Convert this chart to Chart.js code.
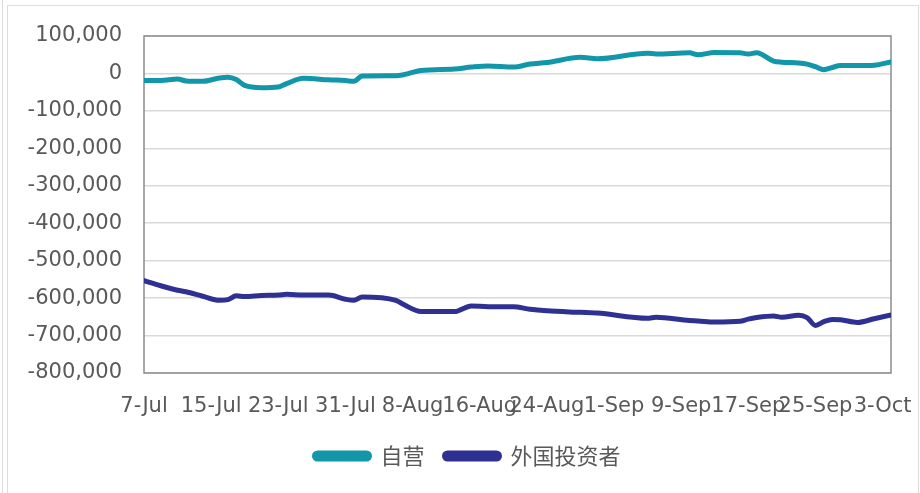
<!DOCTYPE html>
<html>
<head>
<meta charset="utf-8">
<script src="https://cdn.jsdelivr.net/npm/chart.js@4.4.1/dist/chart.umd.min.js"></script>
<style>
    html, body { margin: 0; padding: 0; background: #fff; }
    #edge { position: absolute; left: 2px; top: 0; height: 493px; border-left: 1px solid #dcdcdc; }
    #frame { position: absolute; left: 7px; top: 5px; width: 910px; height: 520px; border: 1px solid #dcdcdc; }
    #wrap { position: absolute; left: 0; top: 0; width: 920px; height: 493px; }
</style>
</head>
<body>
<div id="edge"></div>
<div id="frame"></div>
<div id="wrap"><canvas id="myLineChart" width="920" height="493"></canvas></div>
<script>
"use strict";

// dates of the sampled points
const dates = [
    '7-Jul', '9-Jul', '11-Jul', '12-Jul', '14-Jul', '16-Jul', '17-Jul', '18-Jul', '19-Jul', '21-Jul',
    '23-Jul', '24-Jul', '26-Jul', '29-Jul', '31-Jul',
    '1-Aug', '2-Aug', '6-Aug', '7-Aug', '9-Aug', '13-Aug', '15-Aug', '17-Aug', '20-Aug', '22-Aug',
    '24-Aug', '28-Aug', '30-Aug',
    '5-Sep', '6-Sep', '10-Sep', '11-Sep', '13-Sep', '16-Sep', '17-Sep', '18-Sep', '20-Sep', '21-Sep',
    '23-Sep', '24-Sep', '25-Sep', '26-Sep', '27-Sep', '28-Sep', '30-Sep',
    '2-Oct', '4-Oct'
];

// 自营
const proprietary = [
    -19000, -19000, -15000, -20000, -21000, -12000, -10000, -16000, -32000, -38000,
    -36000, -27000, -13000, -17000, -19000,
    -21000, -7000, -6000, -3000, 8000, 12000, 17000, 20000, 17000, 25000,
    29000, 43000, 39000,
    54000, 52000, 55000, 50000, 56000, 55000, 52000, 55000, 33000, 30000,
    28000, 25000, 18000, 10000, 16000, 21000, 21000,
    22000, 31000
];

// 外国投资者
const foreignInvestors = [
    -553000, -567000, -579000, -583000, -595000, -606000, -604000, -594000, -596000, -593000,
    -592000, -590000, -592000, -592000, -603000,
    -606000, -597000, -606000, -618000, -636000, -636000, -621000, -623000, -623000, -630000,
    -634000, -638000, -640000,
    -654000, -651000, -660000, -661000, -664000, -662000, -656000, -652000, -648000, -651000,
    -646000, -652000, -673000, -663000, -657000, -658000, -665000,
    -655000, -645000
];

const tickLabels = ['7-Jul', '15-Jul', '23-Jul', '31-Jul', '8-Aug', '16-Aug',
    '24-Aug', '1-Sep', '9-Sep', '17-Sep', '25-Sep', '3-Oct'];

const seriesNames = ['自营', '外国投资者'];

/**
 * Day offset from 7-Jul for a label like '16-Aug'
 */
function dayIndex(label) {
    const [d, m] = label.split('-');
    const monthStart = { Jul: -7, Aug: 24, Sep: 55, Oct: 85 };
    return monthStart[m] + Number(d);
}

const toPoints = values => values.map((v, i) => ({ x: dayIndex(dates[i]), y: v }));

// grey frame around the plot area, legend nudged a bit to the right
const plotFrame = {
    id: 'plotFrame',
    afterLayout(chart) {
        chart.legend.left += 11;
        chart.legend.right += 11;
    },
    beforeDatasetsDraw(chart) {
        const { ctx, chartArea: a } = chart;
        ctx.save();
        ctx.strokeStyle = '#8c8c8c';
        ctx.lineWidth = 1.5;
        ctx.strokeRect(a.left, a.top, a.right - a.left, a.bottom - a.top);
        ctx.restore();
    }
};

const tickFont = { family: 'DejaVu Sans', size: 21 };

new Chart(document.getElementById('myLineChart'), {
    type: 'line',
    data: {
        datasets: [{
            label: seriesNames[0],
            data: toPoints(proprietary),
            borderColor: '#1296a9',
            backgroundColor: '#1296a9',
            borderWidth: 5,
            pointRadius: 0,
            cubicInterpolationMode: 'monotone',
            borderCapStyle: 'round'
        }, {
            label: seriesNames[1],
            data: toPoints(foreignInvestors),
            borderColor: '#2e3192',
            backgroundColor: '#2e3192',
            borderWidth: 5,
            pointRadius: 0,
            cubicInterpolationMode: 'monotone',
            borderCapStyle: 'round'
        }]
    },
    options: {
        responsive: false,
        animation: false,
        layout: { padding: { left: 22, right: 29, top: 36, bottom: 16 } },
        scales: {
            x: {
                type: 'linear',
                min: 0,
                max: 89,
                afterBuildTicks: axis => {
                    axis.ticks = tickLabels.map(l => ({ value: dayIndex(l) }));
                },
                afterFit: scale => {
                    scale.height = 52;
                    scale.paddingLeft = 0;
                    scale.paddingRight = 0;
                },
                grid: { display: false, drawTicks: false },
                border: { display: false },
                ticks: {
                    autoSkip: false,
                    maxRotation: 0,
                    minRotation: 0,
                    padding: 21,
                    color: '#595959',
                    font: tickFont,
                    callback: value => tickLabels[value / 8] || ''
                }
            },
            y: {
                min: -800000,
                max: 100000,
                afterFit: scale => { scale.width = 122; },
                grid: { color: '#d9d9d9', lineWidth: 1.5, drawTicks: false },
                border: { display: false },
                ticks: {
                    stepSize: 100000,
                    padding: 22,
                    color: '#595959',
                    font: tickFont,
                    callback: value => value.toLocaleString('en-US')
                }
            }
        },
        plugins: {
            legend: {
                position: 'bottom',
                labels: {
                    boxWidth: 55,
                    boxHeight: 6,
                    useBorderRadius: true,
                    borderRadius: 3,
                    padding: 20,
                    color: '#595959',
                    font: { family: 'Noto Sans CJK SC', size: 22 }
                }
            },
            tooltip: { enabled: false }
        }
    },
    plugins: [plotFrame]
});
</script>
</body>
</html>
